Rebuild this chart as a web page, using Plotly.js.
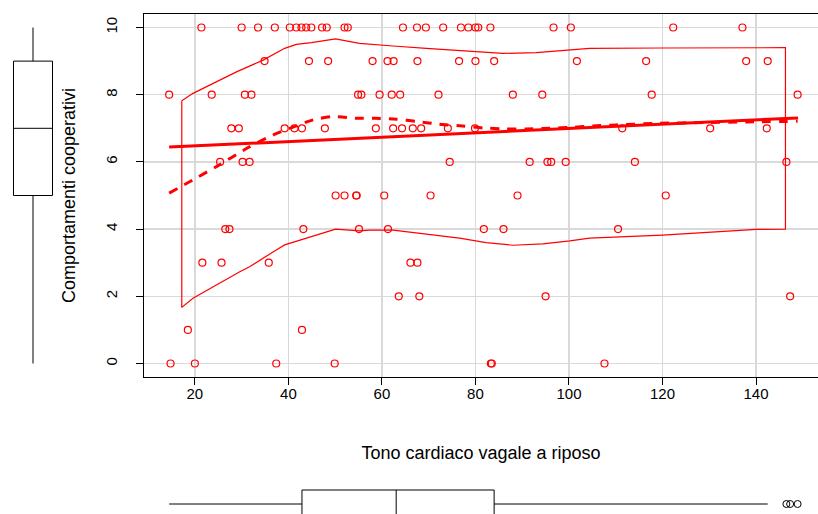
<!DOCTYPE html>
<html>
<head>
<meta charset="utf-8">
<script src="https://cdn.plot.ly/plotly-3.0.1.min.js"></script>
<style>
  html, body { margin: 0; padding: 0; background: #ffffff; }
  #chart { width: 818px; height: 514px; }
</style>
</head>
<body>
<div id="chart"></div>
<script>
// Resting vagal tone of each subject, grouped by cooperative-behaviour score (0–10)
const score10 = [21.4, 30.0, 33.5, 37.1, 40.3, 41.7, 42.8, 43.8, 44.9, 47.2, 48.2, 52.0, 52.7, 64.5, 67.5, 69.4, 73.1, 76.9, 78.5, 80.0, 80.6, 83.2, 96.7, 100.4, 122.3, 137.1];
const score9  = [34.9, 44.4, 48.5, 58.0, 61.2, 62.5, 67.6, 76.5, 80.0, 84.0, 101.7, 116.5, 137.9, 142.5];
const score8  = [14.5, 23.6, 30.7, 32.1, 54.9, 55.6, 59.5, 62.1, 63.9, 72.1, 88.0, 94.3, 117.7, 148.9];
const score7  = [27.8, 29.4, 39.2, 41.3, 42.9, 47.8, 58.7, 62.4, 64.3, 66.6, 68.4, 74.1, 79.9, 111.4, 130.2, 142.3];
const score6  = [25.4, 30.2, 31.7, 74.5, 91.6, 95.4, 96.2, 99.3, 114.1, 146.5];
const score5  = [50.1, 52.0, 54.5, 54.6, 60.5, 70.4, 89.0, 120.7];
const score4  = [26.5, 27.4, 43.2, 55.1, 61.3, 81.8, 86.0, 110.5];
const score3  = [21.6, 25.7, 35.8, 66.1, 67.6];
const score2  = [63.6, 68.0, 95.0, 147.3];
const score1  = [18.5, 42.9];
const score0  = [14.8, 20.0, 37.4, 49.9, 83.3, 83.5, 107.6];
const scoreLevels = [10, 9, 8, 7, 6, 5, 4, 3, 2, 1, 0];
const toneByScore = [score10, score9, score8, score7, score6, score5, score4, score3, score2, score1, score0];

// Least-squares regression line (end points)
const fitLineX = [14.5, 149.0];
const fitLineY = [6.44, 7.31];

// Nonparametric (loess) smooth of the score on vagal tone
const smoothX = [14.5, 24.6, 31.7, 36.7, 40.3, 45.3, 49.5, 54.5, 58.5, 63.1, 67.7, 72.3, 77.3, 81.6, 86.6, 90.9, 95.9, 100.9, 105.1, 110.1, 119.4, 128.7, 137.9, 148.9];
const smoothY = [5.07, 5.86, 6.45, 6.80, 7.00, 7.25, 7.35, 7.30, 7.30, 7.27, 7.20, 7.12, 7.07, 7.01, 6.98, 6.98, 7.00, 7.03, 7.07, 7.10, 7.15, 7.17, 7.19, 7.21];

// Conditional spread around the smooth (upper and lower envelopes)
const spreadUpperX = [17.2, 19.6, 28.9, 34.6, 39.2, 41.7, 44.9, 50.1, 55.2, 57.4, 62.4, 69.5, 76.6, 85.9, 93.0, 100.2, 104.4, 120.0, 146.3];
const spreadUpperY = [7.82, 8.04, 8.68, 9.03, 9.38, 9.50, 9.55, 9.66, 9.53, 9.50, 9.45, 9.38, 9.31, 9.23, 9.25, 9.33, 9.38, 9.39, 9.40];
const spreadLowerX = [17.2, 19.6, 25.7, 29.6, 31.7, 33.9, 37.4, 39.2, 43.8, 50.1, 55.2, 57.4, 62.4, 65.9, 70.9, 76.6, 82.3, 88.0, 94.4, 100.2, 104.4, 120.0, 140.1, 146.3];
const spreadLowerY = [1.67, 1.94, 2.42, 2.73, 2.88, 3.08, 3.38, 3.53, 3.73, 4.00, 3.95, 3.97, 3.97, 3.90, 3.82, 3.73, 3.60, 3.52, 3.56, 3.65, 3.73, 3.82, 3.99, 4.00];

const xTicks = [20, 40, 60, 80, 100, 120, 140];
const yTicks = [0, 2, 4, 6, 8, 10];
const xLabel = 'Tono cardiaco vagale a riposo';
const yLabel = 'Comportamenti cooperativi';

// Flatten into paired observations
const tone = [];
const coop = [];
toneByScore.forEach((arr, i) => arr.forEach(v => { tone.push(v); coop.push(scoreLevels[i]); }));

// Tukey five-number summary and whisker limits (as in R's boxplot)
function tukeyBox(values) {
  const s = values.slice().sort((a, b) => a - b);
  const n = s.length;
  const at = p => 0.5 * (s[Math.floor(p) - 1] + s[Math.ceil(p) - 1]);
  const n4 = Math.floor((n + 3) / 2) / 2;
  const lo = at(n4), med = at((n + 1) / 2), hi = at(n + 1 - n4);
  const iqr = hi - lo;
  const inside = s.filter(v => v >= lo - 1.5 * iqr && v <= hi + 1.5 * iqr);
  const outliers = s.filter(v => v < lo - 1.5 * iqr || v > hi + 1.5 * iqr);
  return { q1: lo, median: med, q3: hi, lower: inside[0], upper: inside[inside.length - 1], outliers };
}

const boxTone = tukeyBox(tone);
const boxCoop = tukeyBox(coop);

const RED = '#ff0000';
const W = 818, H = 514;
const plotLeft = 144 / W;
const plotBottom = 1 - 377 / H, plotTop = 1 - 14 / H;
const xRange = [9.12, 153.26];
const yRange = [-0.402, 10.402];

const traces = [
  {
    type: 'scatter', mode: 'markers', x: tone, y: coop,
    marker: { symbol: 'circle-open', size: 7, color: RED, line: { color: RED, width: 1.2 } },
    hoverinfo: 'x+y', showlegend: false
  },
  {
    // closed outline of the spread envelope
    type: 'scatter', mode: 'lines',
    x: spreadUpperX.concat(spreadLowerX.slice().reverse(), [spreadUpperX[0]]),
    y: spreadUpperY.concat(spreadLowerY.slice().reverse(), [spreadUpperY[0]]),
    line: { color: RED, width: 1.2 }, hoverinfo: 'skip', showlegend: false
  },
  {
    type: 'scatter', mode: 'lines', x: smoothX, y: smoothY,
    line: { color: RED, width: 3, dash: '9px,8px', shape: 'spline', smoothing: 0.6 },
    hoverinfo: 'skip', showlegend: false
  },
  {
    type: 'scatter', mode: 'lines', x: fitLineX, y: fitLineY,
    line: { color: RED, width: 3 }, hoverinfo: 'skip', showlegend: false
  },
  {
    // marginal boxplot of the score
    type: 'box', xaxis: 'x2', yaxis: 'y2', orientation: 'v', x: [0],
    q1: [boxCoop.q1], median: [boxCoop.median], q3: [boxCoop.q3],
    lowerfence: [boxCoop.lower], upperfence: [boxCoop.upper],
    width: 3.9, whiskerwidth: 0, boxpoints: false,
    fillcolor: '#ffffff', line: { color: '#000000', width: 1 }, showlegend: false, hoverinfo: 'skip'
  },
  {
    // marginal boxplot of vagal tone
    type: 'box', xaxis: 'x3', yaxis: 'y3', orientation: 'h', y: [0],
    q1: [boxTone.q1], median: [boxTone.median], q3: [boxTone.q3],
    lowerfence: [boxTone.lower], upperfence: [boxTone.upper],
    width: 2.8, whiskerwidth: 0, boxpoints: false,
    fillcolor: '#ffffff', line: { color: '#000000', width: 1 }, showlegend: false, hoverinfo: 'skip'
  },
  {
    type: 'scatter', mode: 'markers', xaxis: 'x3', yaxis: 'y3',
    x: boxTone.outliers, y: boxTone.outliers.map(() => 0),
    marker: { symbol: 'circle-open', size: 7, color: '#000000', line: { color: '#000000', width: 1 } },
    hoverinfo: 'x', showlegend: false
  }
];

const tickFont = { family: 'Liberation Sans, Arial, sans-serif', size: 15, color: '#000000' };
const titleFont = { family: 'Liberation Sans, Arial, sans-serif', size: 18, color: '#000000' };

const layout = {
  width: W, height: H,
  margin: { l: 0, r: 0, t: 0, b: 0, pad: 0 },
  paper_bgcolor: '#ffffff', plot_bgcolor: '#ffffff',
  showlegend: false,
  xaxis: {
    domain: [plotLeft, 1], range: xRange, anchor: 'y',
    tickvals: xTicks, ticktext: xTicks.map(String),
    ticks: 'outside', ticklen: 7, tickwidth: 1, tickcolor: '#000000',
    ticklabelstandoff: -4,
    showline: true, mirror: true, linecolor: '#000000', linewidth: 1.3,
    showgrid: true, gridcolor: '#d9d9d9', gridwidth: 1.3, zeroline: false,
    tickfont: tickFont,
    title: { text: xLabel, font: titleFont, standoff: 45 }
  },
  yaxis: {
    domain: [plotBottom, plotTop], range: yRange, anchor: 'x',
    tickvals: yTicks, ticktext: yTicks.map(String), tickangle: -90,
    ticks: 'outside', ticklen: 7, tickwidth: 1, tickcolor: '#000000',
    ticklabelstandoff: 13,
    showline: true, mirror: false, linecolor: '#000000', linewidth: 1.3,
    showgrid: true, gridcolor: '#d9d9d9', gridwidth: 1.3, zeroline: false,
    tickfont: tickFont,
    title: { text: yLabel, font: titleFont, standoff: 22 }
  },
  xaxis2: { domain: [0, 66 / W], range: [-3.3, 3.3], anchor: 'y2', visible: false, fixedrange: true },
  yaxis2: { domain: [plotBottom, plotTop], range: yRange, anchor: 'x2', visible: false, showgrid: false, fixedrange: true },
  xaxis3: { domain: [plotLeft, 1], range: xRange, anchor: 'y3', visible: false },
  yaxis3: { domain: [0, 38 / H], range: [-1, 2.8], anchor: 'x3', visible: false, fixedrange: true }
};

Plotly.newPlot('chart', traces, layout, { displayModeBar: false, staticPlot: true });
</script>
</body>
</html>
